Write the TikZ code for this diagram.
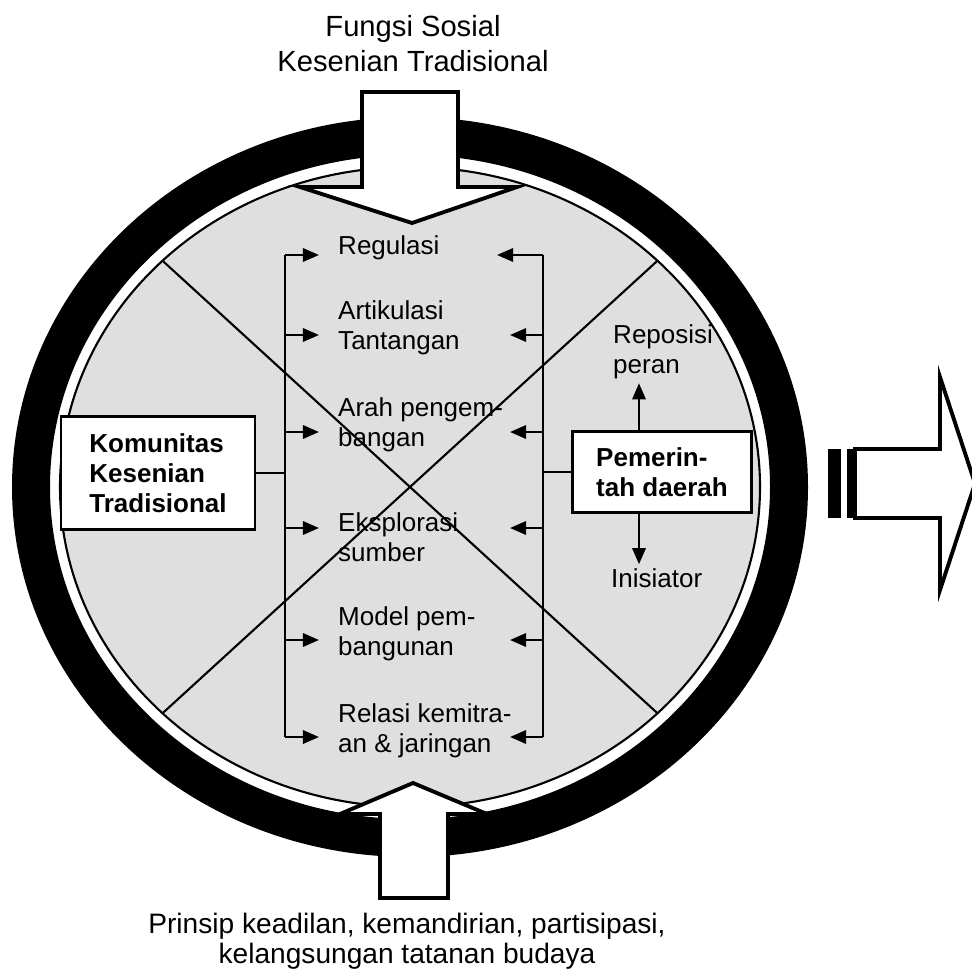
\documentclass[tikz,border=0pt]{standalone}
\usepackage{fontspec}
\setmainfont{Liberation Sans}
\usetikzlibrary{arrows.meta,positioning}

\tikzset{
  lbl/.style={anchor=west, align=left, inner sep=1pt, font=\fontsize{7.4}{8.5}\selectfont},
  box/.style={draw, fill=white, line width=0.7pt, align=left, inner sep=1pt, font=\bfseries\fontsize{7.4}{8.5}\selectfont},
  title/.style={align=center, inner sep=1pt, font=\fontsize{8.3}{10}\selectfont},
  tip/.style={line width=0.7pt, -{Triangle[length=4.6pt,width=3.8pt]}},
  bar/.style={line width=0.8pt},
  hollow/.style={draw, fill=white, line width=1.1pt, line join=miter},
}

\begin{document}
\begin{tikzpicture}[x=0.1mm, y=-0.1mm]
  \useasboundingbox (0,0) rectangle (971,975);
  \coordinate (c) at (410,487);
  % ring and disc
  \fill[black, even odd rule] (c) ellipse [x radius=398, y radius=370]
                              (c) ellipse [x radius=360, y radius=332];
  \draw[line width=0.6pt, fill=gray!25] (c) ellipse [x radius=350, y radius=320];
  \draw[line width=0.6pt] ([shift={(45:350 and 320)}]c)  -- ([shift={(225:350 and 320)}]c);
  \draw[line width=0.6pt] ([shift={(135:350 and 320)}]c) -- ([shift={(315:350 and 320)}]c);

  % labels between the brackets
  \node (reg)  at (334,248) [lbl] {Regulasi};
  \node (art)  at (334,328) [lbl] {Artikulasi\\Tantangan};
  \node (arah) at (334,425) [lbl] {Arah pengem-\\bangan};
  \node (eks)  at (334,537) [lbl] {Eksplorasi\\sumber};
  \node (mod)  at (334,634) [lbl] {Model pem-\\bangunan};
  \node (rel)  at (334,731) [lbl] {Relasi kemitra-\\an \& jaringan};

  \coordinate (rtip)  at (510,0);
  \coordinate (rtop)  at (497,0);
  \foreach \n/\y in {reg/255, art/335, arah/432, eks/528, mod/640, rel/737} {
    \coordinate (l\n) at (285,\y);
    \coordinate (r\n) at (543,\y);
    \draw[tip, shorten >=1.5mm] (l\n) -- (l\n -| \n.west);
  }
  \draw[tip] (rreg) -- (rreg -| rtop);
  \foreach \n in {art, arah, eks, mod, rel}
    \draw[tip] (r\n) -- (r\n -| rtip);
  \draw[bar] (lreg) -- (lrel);
  \draw[bar] (rreg) -- (rrel);

  % actors
  \node (kom) at (158,473) [box, minimum width=19.4mm, minimum height=11.3mm] {Komunitas\\Kesenian\\Tradisional};
  \node (pem) at (662,472) [box, minimum width=17.9mm, minimum height=8.1mm] {Pemerin-\\tah daerah};
  \draw[bar] (kom.east) -- (kom.east -| lreg);
  \draw[bar] (pem.west) -- (pem.west -| rreg);

  \coordinate (ax) at (639,0);
  \node (repo) at (609,352) [lbl] {Reposisi\\peran};
  \node (ini)  at (607,578) [lbl] {Inisiator};
  \draw[tip] (pem.north -| ax) -- (repo.south -| ax);
  \draw[tip] (pem.south -| ax) -- (ini.north -| ax);

  % big arrows
  \draw[hollow] (362,92) -- (458,92) -- (458,187) -- (517,187) -- (412,223) -- (300,187) -- (362,187) -- cycle;
  \node (top) at (413,44) [title] {Fungsi Sosial\\Kesenian Tradisional};
  \draw[hollow] (380,898) -- (448,898) -- (448,814) -- (487,814) -- (413,783) -- (340,814) -- (380,814) -- cycle;
  \node (bot) at (407,941) [title, font=\fontsize{8}{8.4}\selectfont] {Prinsip keadilan, kemandirian, partisipasi,\\kelangsungan tatanan budaya};

  % striped arrow
  \fill (828,449) rectangle (841,518);
  \fill (847,449) rectangle (855,518);
  \draw[hollow] (855,449) -- (940,449) -- (940,377) -- (975,483.5) -- (940,590) -- (940,518) -- (855,518) -- cycle;
\end{tikzpicture}
\end{document}
